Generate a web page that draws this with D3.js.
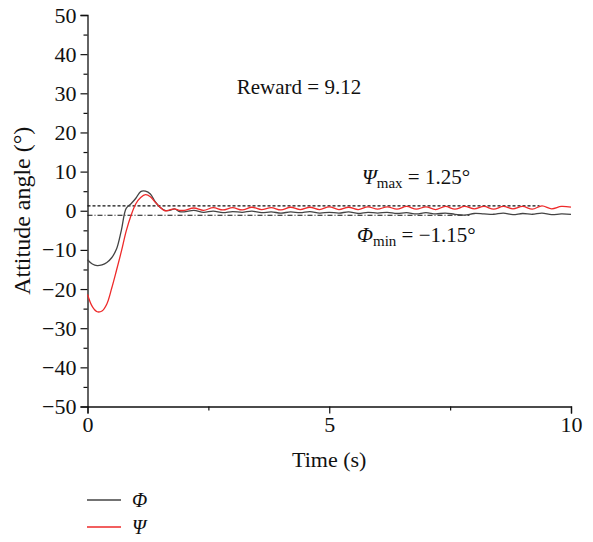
<!DOCTYPE html>
<html>
<head>
<meta charset="utf-8">
<script src="https://cdn.jsdelivr.net/npm/d3@7"></script>
<style>
  body { margin: 0; background: #fff; }
  text { font-family: "Liberation Serif", "DejaVu Serif", serif; fill: #111; }
</style>
</head>
<body>
<svg id="chart" width="593" height="542"></svg>
<script>
// time samples (s)
var time = [0, 0.1, 0.2, 0.3, 0.4, 0.5, 0.6, 0.7, 0.8, 0.9, 1.0, 1.1, 1.2, 1.3, 1.4, 1.5, 1.6, 1.7, 1.8, 1.9,
  2.0, 2.2, 2.4, 2.6, 2.8, 3.0, 3.2, 3.4, 3.6, 3.8, 4.0, 4.2, 4.4, 4.6, 4.8, 5.0, 5.2, 5.4, 5.6, 5.8,
  6.0, 6.2, 6.4, 6.6, 6.8, 7.0, 7.2, 7.4, 7.6, 7.8, 8.0, 8.2, 8.4, 8.6, 8.8, 9.0, 9.2, 9.4, 9.6, 9.8, 10.0];

// roll angle Phi (deg)
var phi = [-12.5, -13.6, -14.0, -13.8, -13.2, -12.0, -9.8, -5.0, 0.6, 1.8, 3.2, 4.9, 5.0, 4.3, 2.3, 0.9, 0.1, 0.1, 0.5, -0.2,
  -0.3, 0.1, -0.4, -0.1, -0.5, -0.2, -0.4, -0.1, -0.5, -0.3, -0.6, -0.3, -0.5, -0.2, -0.6, -0.4, -0.6, -0.3, -0.7, -0.4,
  -0.6, -0.4, -0.7, -0.5, -0.8, -0.5, -0.8, -0.6, -0.9, -1.1, -0.7, -0.8, -0.9, -0.6, -1.0, -0.7, -0.9, -0.6, -1.0, -0.8, -0.9];

// yaw angle Psi (deg)
var psi = [-21.4, -24.5, -25.8, -25.6, -23.8, -19.8, -15.2, -10.4, -5.2, -1.2, 1.8, 3.4, 4.1, 3.6, 2.2, 0.9, 0.0, 0.2, 0.5, 0.1,
  0.1, 0.7, 0.1, 0.8, 0.2, 0.8, 0.2, 0.9, 0.3, 0.8, 0.2, 0.9, 0.3, 0.9, 0.3, 1.0, 0.3, 0.9, 0.3, 1.0,
  0.4, 1.0, 0.4, 1.1, 0.4, 1.0, 0.3, 1.1, 0.4, 1.1, 0.5, 1.1, 0.4, 1.1, 0.5, 1.1, 0.4, 1.25, 0.5, 1.1, 0.9];

var xTicks = [0, 5, 10];
var xMinor = [2.5, 7.5];
var yTicks = [-50, -40, -30, -20, -10, 0, 10, 20, 30, 40, 50];
var yMinor = [-45, -35, -25, -15, -5, 5, 15, 25, 35, 45];

// reference lines: value and end time
var psiMax = 1.25, psiMaxEnd = 9.35;
var phiMin = -1.15, phiMinEnd = 7.9;
var reward = 9.12;

var svg = d3.select("#chart");
var plotLeft = 87.5, plotRight = 571, plotTop = 15, plotBottom = 406.5;

var x = d3.scaleLinear().domain([0, 10]).range([plotLeft, plotRight]);
var y = d3.scaleLinear().domain([-50, 50]).range([plotBottom, plotTop]);

var grayCol = "#444", redCol = "#ee2a2a";
var serif = "'Liberation Serif', 'DejaVu Serif', serif";

// axes
svg.append("g").attr("class", "axis").attr("transform", "translate(0," + plotBottom + ")")
  .call(d3.axisBottom(x).tickValues(xTicks).tickSize(7).tickPadding(3).tickFormat(d3.format("d")));
svg.append("g").attr("transform", "translate(0," + plotBottom + ")")
  .call(d3.axisBottom(x).tickValues(xMinor).tickSize(4).tickFormat(""))
  .select(".domain").remove();

svg.append("g").attr("class", "axis").attr("transform", "translate(" + plotLeft + ",0)")
  .call(d3.axisLeft(y).tickValues(yTicks).tickSize(7).tickPadding(4)
    .tickFormat(function (d) { return d < 0 ? "\u2212" + Math.abs(d) : d; }));
svg.append("g").attr("transform", "translate(" + plotLeft + ",0)")
  .call(d3.axisLeft(y).tickValues(yMinor).tickSize(4).tickFormat(""))
  .select(".domain").remove();

svg.selectAll(".axis").attr("font-size", 22).attr("font-family", serif);
svg.selectAll(".domain").attr("stroke", "#111").attr("stroke-width", 1.3);
svg.selectAll(".tick line").attr("stroke", "#111").attr("stroke-width", 1.2);
svg.selectAll(".tick text").attr("fill", "#111");

// axis labels
svg.append("text").attr("x", x(5)).attr("y", 467).attr("text-anchor", "middle")
  .attr("font-size", 22).text("Time (s)");
svg.append("text").attr("transform", "translate(30," + y(0) + ") rotate(-90)")
  .attr("text-anchor", "middle").attr("font-size", 24).text("Attitude angle (\u00b0)");

// reference lines
svg.append("line").attr("x1", x(0)).attr("x2", x(psiMaxEnd)).attr("y1", y(psiMax)).attr("y2", y(psiMax))
  .attr("stroke", "#111").attr("stroke-width", 1.1).attr("stroke-dasharray", "3,2");
svg.append("line").attr("x1", x(0)).attr("x2", x(phiMinEnd)).attr("y1", y(phiMin)).attr("y2", y(phiMin))
  .attr("stroke", "#111").attr("stroke-width", 1.1).attr("stroke-dasharray", "5,2,1,2");

// curves
var line = d3.line().curve(d3.curveCatmullRom.alpha(0.5));
var series = [
  { name: "\u03a6", values: phi, color: grayCol },
  { name: "\u03a8", values: psi, color: redCol }
];
series.forEach(function (s) {
  svg.append("path")
    .datum(time.map(function (t, i) { return [x(t), y(s.values[i])]; }))
    .attr("fill", "none").attr("stroke", s.color).attr("stroke-width", 1.3)
    .attr("d", line);
});

// annotations
svg.append("text").attr("x", 299).attr("y", 94).attr("text-anchor", "middle")
  .attr("font-size", 21).text("Reward = " + reward);

var t1 = svg.append("text").attr("x", 362).attr("y", 184).attr("font-size", 21);
t1.append("tspan").style("font-style", "italic").text("\u03a8");
t1.append("tspan").attr("dy", 4).attr("font-size", 15).text("max");
t1.append("tspan").attr("dy", -4).text(" = " + psiMax + "\u00b0");

var t2 = svg.append("text").attr("x", 357).attr("y", 242).attr("font-size", 21);
t2.append("tspan").style("font-style", "italic").text("\u03a6");
t2.append("tspan").attr("dy", 4).attr("font-size", 15).text("min");
t2.append("tspan").attr("dy", -4).text(" = \u2212" + Math.abs(phiMin) + "\u00b0");

// legend
var legend = svg.selectAll(".legend")
  .data(series)
  .enter().append("g")
  .attr("class", "legend")
  .attr("transform", function (d, i) { return "translate(87," + (500 + i * 27) + ")"; });
legend.append("line").attr("x1", 0).attr("x2", 34).attr("y1", 0).attr("y2", 0)
  .attr("stroke", function (d) { return d.color; }).attr("stroke-width", 1.3);
legend.append("text").attr("x", 45).attr("y", 7).attr("font-size", 20)
  .style("font-style", "italic").text(function (d) { return d.name; });
</script>
</body>
</html>
